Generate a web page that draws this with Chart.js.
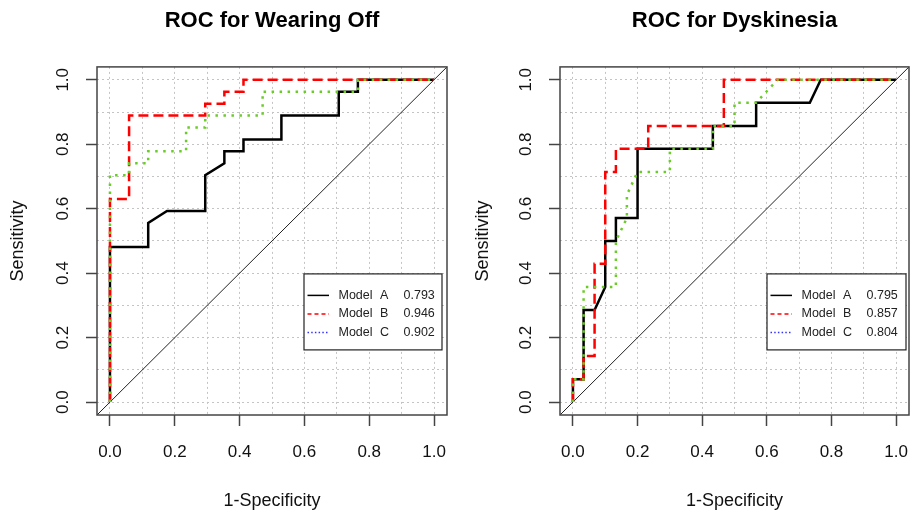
<!DOCTYPE html>
<html>
<head>
<meta charset="utf-8">
<script src="https://cdn.jsdelivr.net/npm/chart.js@4.4.0/dist/chart.umd.min.js"></script>
<style>
body { margin: 0; background: #fff; }
#wrap { position: relative; width: 911px; height: 513px; }
canvas { position: absolute; top: 0; }
</style>
</head>
<body>
<div id="wrap">
<canvas id="wearingOff" width="455" height="513" style="left:0px"></canvas>
<canvas id="dyskinesia" width="456" height="513" style="left:455px"></canvas>
</div>
<script>
// ROC curves, x = 1-specificity, y = sensitivity

// Wearing Off
var woA_x = [0, 0, 0.118, 0.118, 0.176, 0.294, 0.294, 0.353, 0.353, 0.412, 0.412, 0.529, 0.529, 0.706, 0.706, 0.765, 0.765, 1];
var woA_y = [0, 0.481, 0.481, 0.556, 0.593, 0.593, 0.704, 0.741, 0.778, 0.778, 0.815, 0.815, 0.889, 0.889, 0.963, 0.963, 1, 1];
var woB_x = [0, 0, 0.059, 0.059, 0.294, 0.294, 0.353, 0.353, 0.412, 0.412, 1];
var woB_y = [0, 0.630, 0.630, 0.889, 0.889, 0.926, 0.926, 0.963, 0.963, 1, 1];
var woC_x = [0, 0, 0.059, 0.059, 0.118, 0.118, 0.235, 0.235, 0.294, 0.294, 0.471, 0.471, 0.765, 0.765, 1];
var woC_y = [0, 0.704, 0.704, 0.741, 0.741, 0.778, 0.778, 0.852, 0.852, 0.889, 0.889, 0.963, 0.963, 1, 1];
var woAuc = ['0.793', '0.946', '0.902'];

// Dyskinesia
var dyA_x = [0, 0, 0.033, 0.033, 0.067, 0.1, 0.1, 0.133, 0.133, 0.2, 0.2, 0.433, 0.433, 0.567, 0.567, 0.733, 0.767, 1];
var dyA_y = [0, 0.071, 0.071, 0.286, 0.286, 0.357, 0.5, 0.5, 0.571, 0.571, 0.786, 0.786, 0.857, 0.857, 0.929, 0.929, 1, 1];
var dyB_x = [0, 0, 0.033, 0.033, 0.067, 0.067, 0.1, 0.1, 0.133, 0.133, 0.233, 0.233, 0.467, 0.467, 1];
var dyB_y = [0, 0.071, 0.071, 0.143, 0.143, 0.429, 0.429, 0.714, 0.714, 0.786, 0.786, 0.857, 0.857, 1, 1];
var dyC_x = [0, 0, 0.033, 0.033, 0.133, 0.133, 0.167, 0.167, 0.2, 0.3, 0.3, 0.433, 0.433, 0.5, 0.5, 0.567, 0.633, 1];
var dyC_y = [0, 0.071, 0.071, 0.357, 0.357, 0.5, 0.571, 0.643, 0.714, 0.714, 0.786, 0.786, 0.857, 0.857, 0.929, 0.929, 1, 1];
var dyAuc = ['0.795', '0.857', '0.804'];

var modelLetters = ['A', 'B', 'C'];
var chanceLine = [-0.04, 1.04];
var gridSteps = [0, 0.1, 0.2, 0.3, 0.4, 0.5, 0.6, 0.7, 0.8, 0.9, 1.0];

var FONT = "'Liberation Sans', Arial, sans-serif";

function pts(xs, ys) {
    var out = [];
    for (var i in xs) {
        out.push({x: xs[i], y: ys[i]});
    }
    return out;
}

function isMajor(v) {
    return Math.round(v * 10) % 2 === 0;
}

// box around the plot + legend in the lower right (drawn like R's legend())
var framePlugin = {
    id: 'frame',
    afterDatasetsDraw: function(chart, args, opts) {
        var a = chart.chartArea;
        var ctx = chart.ctx;
        ctx.save();
        ctx.strokeStyle = '#444';
        ctx.lineWidth = 1.5;
        ctx.strokeRect(a.left, a.top, a.right - a.left, a.bottom - a.top);

        var bx = a.left + 207, by = a.top + 207;
        var bw = a.right - opts.inset - bx, bh = 76;
        ctx.fillStyle = '#fff';
        ctx.fillRect(bx, by, bw, bh);
        ctx.strokeStyle = '#222';
        ctx.lineWidth = 1.2;
        ctx.strokeRect(bx, by, bw, bh);

        var colors = ['#000000', '#ff0000', '#3333ff'];
        var dashes = [[], [4, 3], [1.5, 2.2]];
        var rows = [21.5, 40, 58.5];
        ctx.font = '12.5px ' + FONT;
        ctx.textBaseline = 'middle';
        for (var i = 0; i < 3; i++) {
            var ry = by + rows[i];
            ctx.beginPath();
            ctx.setLineDash(dashes[i]);
            ctx.strokeStyle = colors[i];
            ctx.lineWidth = 1.5;
            ctx.moveTo(bx + 3.5, ry);
            ctx.lineTo(bx + 25, ry);
            ctx.stroke();
            ctx.setLineDash([]);
            ctx.fillStyle = '#222';
            ctx.fillText('Model', bx + 34.5, ry);
            ctx.fillText(modelLetters[i], bx + 76, ry);
            ctx.fillText(opts.auc[i], bx + 99.5, ry);
        }
        ctx.restore();
    }
};

function makeChart(id, title, A, B, C, auc, yWidth, yTitlePad, padRight, inset) {
    var ctx = document.getElementById(id);
    return new Chart(ctx, {
        type: 'line',
        data: {
            datasets: [
                {
                    label: 'Model C', data: C,
                    borderColor: '#6acc26', borderWidth: 2.5, borderDash: [2.5, 5.5]
                },
                {
                    label: 'Model B', data: B,
                    borderColor: '#ff0000', borderWidth: 2.5, borderDash: [10, 5]
                },
                {
                    label: 'Model A', data: A,
                    borderColor: '#000000', borderWidth: 2.5
                },
                {
                    label: 'chance', data: pts(chanceLine, chanceLine),
                    borderColor: '#222', borderWidth: 1
                }
            ]
        },
        options: {
            responsive: false,
            animation: false,
            devicePixelRatio: 1,
            layout: { padding: { left: 0, right: padRight, top: 0, bottom: 0 } },
            elements: {
                point: { radius: 0 },
                line: { tension: 0, fill: false, borderJoinStyle: 'miter' }
            },
            scales: {
                x: {
                    type: 'linear', min: -0.04, max: 1.04,
                    afterBuildTicks: function(s) { s.ticks = gridSteps.map(function(v) { return {value: v}; }); },
                    afterFit: function(s) { s.height = 98; s.paddingLeft = 0; s.paddingRight = 0; },
                    ticks: {
                        autoSkip: false, maxRotation: 0, padding: 16, color: '#111',
                        font: { family: FONT, size: 17 },
                        callback: function(v) { return isMajor(v) ? v.toFixed(1) : ''; }
                    },
                    grid: {
                        color: '#c4c4c4', lineWidth: 1,
                        tickLength: 11, tickBorderDash: [],
                        tickColor: function(c) { return isMajor(c.tick.value) ? '#444' : 'rgba(0,0,0,0)'; },
                        tickWidth: 1.5
                    },
                    border: { display: false, dash: [2, 3] },
                    title: {
                        display: true, text: '1-Specificity', color: '#111',
                        font: { family: FONT, size: 18 }, padding: { top: 0, bottom: 1 }
                    }
                },
                y: {
                    type: 'linear', min: -0.04, max: 1.04,
                    afterBuildTicks: function(s) { s.ticks = gridSteps.map(function(v) { return {value: v}; }); },
                    afterFit: function(s) { s.width = yWidth; s.paddingTop = 0; s.paddingBottom = 0; },
                    ticks: {
                        autoSkip: false, minRotation: 90, maxRotation: 90, padding: 10.5,
                        crossAlign: 'center', color: '#111',
                        font: { family: FONT, size: 17 },
                        callback: function(v) { return isMajor(v) ? v.toFixed(1) : ''; }
                    },
                    grid: {
                        color: '#c4c4c4', lineWidth: 1,
                        tickLength: 11, tickBorderDash: [],
                        tickColor: function(c) { return isMajor(c.tick.value) ? '#444' : 'rgba(0,0,0,0)'; },
                        tickWidth: 1.5
                    },
                    border: { display: false, dash: [2, 3] },
                    title: {
                        display: true, text: 'Sensitivity', color: '#111',
                        font: { family: FONT, size: 18 }, padding: { top: yTitlePad, bottom: 0 }
                    }
                }
            },
            plugins: {
                legend: { display: false },
                tooltip: { enabled: false },
                title: {
                    display: true, text: title, fullSize: false, color: '#000',
                    font: { family: FONT, size: 22, weight: 'bold' },
                    padding: { top: 7.5, bottom: 33 }
                },
                frame: { auc: auc, inset: inset }
            }
        },
        plugins: [framePlugin]
    });
}

makeChart('wearingOff', 'ROC for Wearing Off',
    pts(woA_x, woA_y), pts(woB_x, woB_y), pts(woC_x, woC_y), woAuc, 97, 7.5, 8, 5);
makeChart('dyskinesia', 'ROC for Dyskinesia',
    pts(dyA_x, dyA_y), pts(dyB_x, dyB_y), pts(dyC_x, dyC_y), dyAuc, 105, 17, 2, 3);
</script>
</body>
</html>
